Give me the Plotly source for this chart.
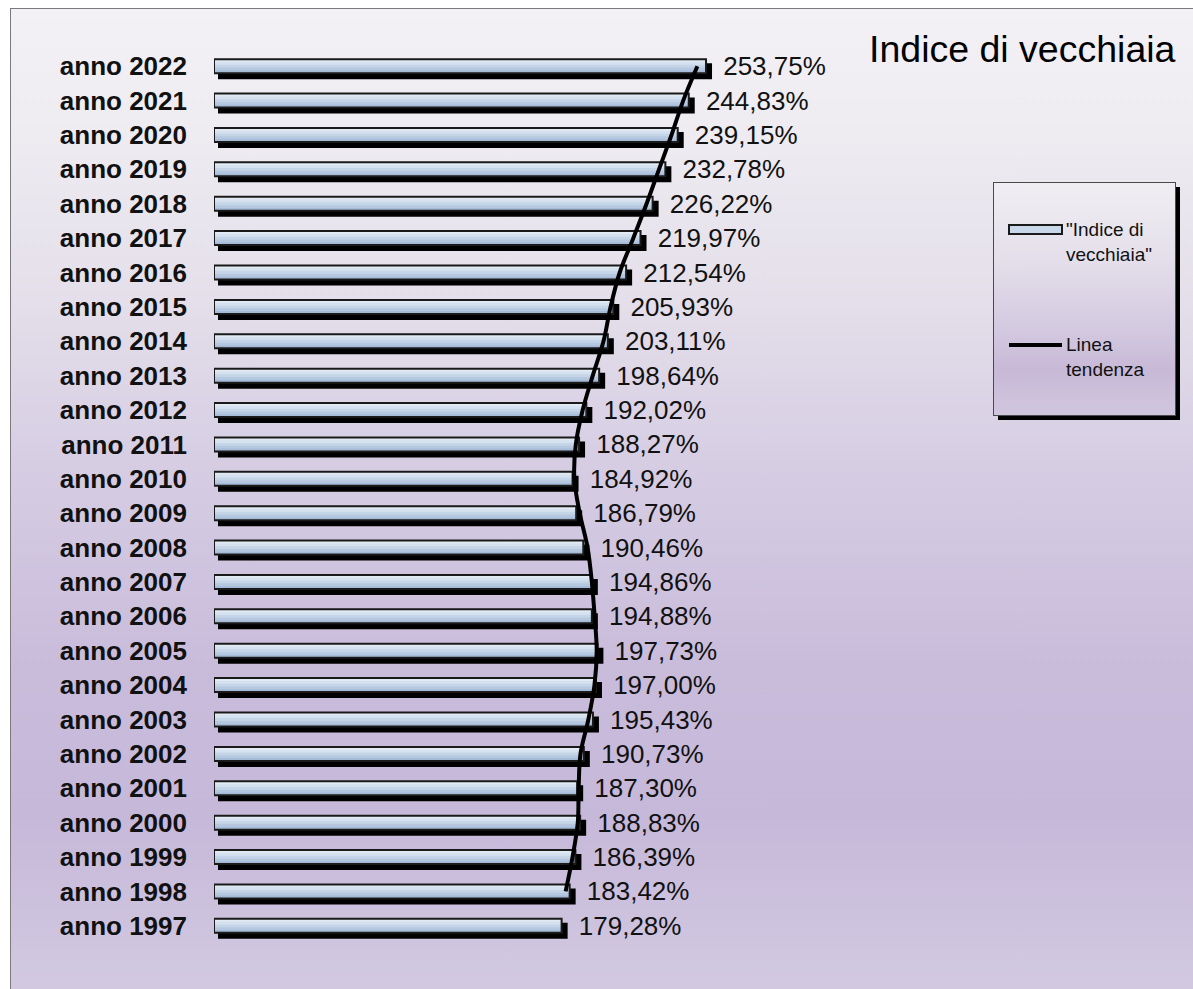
import base64
import plotly.graph_objects as go

# ---------------- data ----------------
years = [1997, 1998, 1999, 2000, 2001, 2002, 2003, 2004, 2005, 2006, 2007, 2008, 2009,
         2010, 2011, 2012, 2013, 2014, 2015, 2016, 2017, 2018, 2019, 2020, 2021, 2022]
values = [179.28, 183.42, 186.39, 188.83, 187.30, 190.73, 195.43, 197.00, 197.73, 194.88,
          194.86, 190.46, 186.79, 184.92, 188.27, 192.02, 198.64, 203.11, 205.93, 212.54,
          219.97, 226.22, 232.78, 239.15, 244.83, 253.75]
tick_labels = [f"anno {y}" for y in years]
value_labels = [f"{v:.2f}".replace(".", ",") + "%" for v in values]
title_text = "Indice di vecchiaia"
legend_bar_text = '"Indice di<br>vecchiaia"'
legend_line_text = "Linea<br>tendenza"

# trend line: 2-period moving average (as in the original spreadsheet chart)
trend_years = years[1:]
trend_values = [(values[i - 1] + values[i]) / 2 for i in range(1, len(values))]

# ---------------- geometry ----------------
W, H = 1193, 989
L, R, T, B = 214, 379, 49, 46
PW, PH = W - L - R, H - T - B
XSCALE = 1.939                     # px per unit
XMAX = PW / XSCALE
ROW = PH / len(years)              # px per category


def px(xp):
    return (xp - L) / PW


def py(yp):
    return 1 - (yp - T) / PH


FONT = "Liberation Sans, Arial, Helvetica, sans-serif"

fig = go.Figure()

# shadow bars
sh_w = 16 / ROW
sh_base = 4 / XSCALE
fig.add_trace(go.Bar(
    y=years, x=[v + 6 / XSCALE - sh_base for v in values], base=sh_base,
    orientation="h", width=sh_w, offset=-sh_w / 2 - 5 / ROW,
    marker=dict(color="#000000", line=dict(width=0)),
    hoverinfo="skip", showlegend=False))

# gradient: darkest full bar first, then lighter bars anchored at the top
bw = 14 / ROW
band_colors = ["#a6bbd7", "#b5c8e0", "#c5d5e8", "#d5e1ef", "#e2eaf4"]
nb = len(band_colors)
for k, c in enumerate(band_colors):
    h = bw * (nb - k) / nb
    fig.add_trace(go.Bar(
        y=years, x=values, orientation="h", width=h,
        offset=bw / 2 - h,
        marker=dict(color=c, line=dict(width=0)),
        hoverinfo="skip", showlegend=False))

# outline bars
fig.add_trace(go.Bar(
    y=years, x=values, orientation="h", width=bw,
    marker=dict(color="rgba(0,0,0,0)", line=dict(color="#1a1a1a", width=2)),
    name="Indice di vecchiaia", showlegend=False))

# invisible bars carrying value labels
fig.add_trace(go.Bar(
    y=years, x=[v + 7.3 for v in values], orientation="h", width=0.9,
    marker=dict(color="rgba(0,0,0,0)", line=dict(width=0)),
    text=value_labels, textposition="outside", constraintext="none",
    textfont=dict(family=FONT, size=26, color="#111111"),
    cliponaxis=False, hoverinfo="skip", showlegend=False))

# trend line
fig.add_trace(go.Scatter(
    y=trend_years, x=trend_values, mode="lines",
    line=dict(color="#000000", width=4, shape="spline"),
    name="Linea tendenza", showlegend=False))

# ---------------- background svg ----------------
bg_stops = [(8, "#f3f1f6"), (135, "#eeebf1"), (300, "#e4dfea"), (465, "#d6cde3"),
            (665, "#c9bcdb"), (815, "#c6b8d9"), (965, "#d0c7e0"), (989, "#d2c9e1")]
lg_stops = [(182, "#f0eef3"), (260, "#e4dfea"), (330, "#d3c9e0"), (370, "#c8b9d7"),
            (416, "#d0c6de")]


def grad(gid, stops):
    s = "".join(f'<stop offset="{(y - stops[0][0]) / (stops[-1][0] - stops[0][0]):.4f}" stop-color="{c}"/>'
                for y, c in stops)
    return (f'<linearGradient id="{gid}" gradientUnits="userSpaceOnUse" x1="0" y1="{stops[0][0]}" '
            f'x2="0" y2="{stops[-1][0]}">{s}</linearGradient>')


svg = (f'<svg xmlns="http://www.w3.org/2000/svg" width="{W}" height="{H}" viewBox="0 0 {W} {H}" '
       f'preserveAspectRatio="none"><defs>{grad("g", bg_stops)}{grad("lg", lg_stops)}</defs>'
       f'<rect x="0" y="0" width="{W}" height="{H}" fill="#ffffff"/>'
       f'<rect x="10.5" y="8.5" width="1300" height="1100" fill="url(#g)" stroke="#7a7a7a" stroke-width="1"/>'
       f'<rect x="998" y="187" width="182" height="233" fill="#000000"/>'
       f'<rect x="993.5" y="182.5" width="182" height="233" fill="url(#lg)" stroke="#4a4a4a" stroke-width="1"/>'
       f'</svg>')
src = "data:image/svg+xml;base64," + base64.b64encode(svg.encode()).decode()

shapes = [
    # legend symbols
    dict(type="rect", xref="paper", yref="paper",
         x0=px(1009), x1=px(1062), y0=py(225), y1=py(234),
         fillcolor="#c9d7ea", line=dict(color="#1a1a1a", width=2), layer="above"),
    dict(type="line", xref="paper", yref="paper",
         x0=px(1009), x1=px(1062), y0=py(345), y1=py(345),
         line=dict(color="#000000", width=4), layer="above"),
]

annotations = [
    dict(text=title_text, xref="paper", yref="paper", x=px(1178), y=py(49),
         xanchor="right", yanchor="middle", showarrow=False,
         font=dict(family=FONT, size=37.5, color="#000000")),
    dict(text=legend_bar_text, xref="paper", yref="paper", x=px(1064), y=py(242),
         xanchor="left", yanchor="middle", align="left", showarrow=False,
         font=dict(family=FONT, size=19, color="#111111")),
    dict(text=legend_line_text, xref="paper", yref="paper", x=px(1064), y=py(357),
         xanchor="left", yanchor="middle", align="left", showarrow=False,
         font=dict(family=FONT, size=19, color="#111111")),
]

fig.update_layout(
    width=W, height=H,
    margin=dict(l=L, r=R, t=T, b=B, autoexpand=False),
    barmode="overlay",
    paper_bgcolor="#ffffff", plot_bgcolor="rgba(0,0,0,0)",
    showlegend=False,
    images=[dict(source=src, xref="paper", yref="paper", x=px(0), y=py(0),
                 sizex=W / PW, sizey=H / PH, xanchor="left", yanchor="top",
                 sizing="stretch", layer="below")],
    shapes=shapes, annotations=annotations,
    xaxis=dict(range=[0, XMAX], visible=False, fixedrange=True),
    yaxis=dict(range=[years[0] - 0.5, years[-1] + 0.5], tickmode="array",
               tickvals=years, ticktext=tick_labels, showgrid=False, zeroline=False,
               showline=False, ticks="", ticklabelstandoff=26, automargin=False,
               tickfont=dict(family=FONT, size=26, color="#111111", weight="bold"),
               fixedrange=True),
)

fig.write_html(
    "out.html",
    config={"displayModeBar": False, "staticPlot": True},
    post_script="document.body.style.margin='0';document.body.style.overflow='hidden';",
)
